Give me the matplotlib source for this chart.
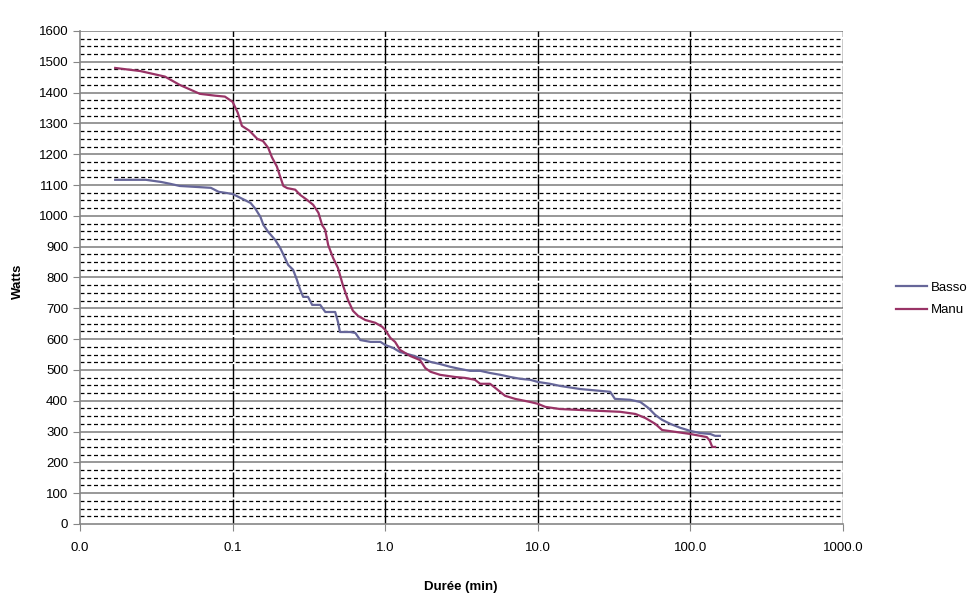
import matplotlib
matplotlib.use("Agg")
import matplotlib.pyplot as plt
from matplotlib.ticker import FixedLocator, FixedFormatter, NullLocator

plt.rcParams['font.family'] = ['Liberation Sans', 'DejaVu Sans']

# Durée (min) and Watts — Manu
manu_t = [0.017, 0.0248, 0.036, 0.045, 0.061, 0.077, 0.089, 0.1, 0.108, 0.115, 0.129, 0.145,
          0.158, 0.171, 0.181, 0.195, 0.205, 0.215, 0.228, 0.257, 0.277, 0.307, 0.337, 0.365,
          0.386, 0.404, 0.423, 0.455, 0.49, 0.527, 0.57, 0.614, 0.665, 0.74, 0.86, 0.955,
          1.0, 1.08, 1.16, 1.25, 1.35, 1.46, 1.69, 1.83, 1.98, 2.29, 2.87, 3.34, 3.87, 4.19,
          4.86, 5.25, 6.1, 7.1, 8.9, 10.0, 11.2, 14.0, 18.9, 25.6, 34.7, 43.6, 50.6, 58.8,
          65.2, 79.4, 100.0, 116.0, 128.0, 134.0, 139.0, 145.0]
manu_w = [1480, 1470, 1452, 1425, 1396, 1390, 1387, 1370, 1335, 1292, 1276, 1250,
          1243, 1221, 1190, 1160, 1127, 1097, 1090, 1085, 1068, 1052, 1036, 1010,
          970, 955, 905, 864, 831, 776, 727, 692, 675, 662, 653, 640,
          630, 604, 591, 565, 555, 545, 532, 506, 494, 484, 477, 474, 468, 455,
          455, 442, 416, 406, 396, 390, 380, 373, 370, 367, 364, 357, 344, 325,
          305, 299, 292, 286, 282, 270, 250, 250]

# Durée (min) and Watts — Basso
basso_t = [0.017, 0.027, 0.034, 0.039, 0.045, 0.057, 0.072, 0.081, 0.089, 0.1, 0.116, 0.131,
           0.141, 0.152, 0.159, 0.171, 0.19, 0.205, 0.22, 0.231, 0.249, 0.264, 0.277, 0.29,
           0.312, 0.332, 0.375, 0.405, 0.47, 0.49, 0.505, 0.59, 0.637, 0.686, 0.8, 0.93,
           1.0, 1.13, 1.25, 1.46, 1.69, 1.98, 2.29, 2.67, 3.1, 3.6, 4.2, 4.86, 5.7, 6.6,
           7.7, 8.9, 10.0, 12.0, 14.0, 18.9, 25.6, 29.8, 32.0, 40.3, 46.9, 52.9, 58.8, 65.2,
           73.7, 85.9, 100.0, 116.0, 135.0, 145.0, 156.0]
basso_w = [1117, 1117, 1110, 1104, 1097, 1094, 1091, 1078, 1075, 1071, 1055, 1042,
           1023, 997, 971, 948, 922, 896, 864, 841, 825, 792, 760, 737,
           737, 711, 711, 688, 688, 656, 623, 623, 620, 597, 591, 591,
           581, 571, 558, 549, 539, 526, 519, 510, 503, 497, 497, 490, 484, 477,
           471, 468, 461, 455, 448, 438, 432, 429, 406, 403, 396, 377, 354, 338,
           325, 312, 302, 295, 292, 286, 286]

x_ticks = [0.01, 0.1, 1, 10, 100, 1000]
x_labels = ["0.0", "0.1", "1.0", "10.0", "100.0", "1000.0"]
y_ticks = list(range(0, 1601, 100))

fig = plt.figure(figsize=(9.7, 6.04), dpi=100)
ax = fig.add_axes([0.0825, 0.1325, 0.7866, 0.8162])

ax.set_xscale('log')
ax.set_xlim(0.01, 1000)
ax.set_ylim(0, 1600)

# gridlines
for y in range(25, 1600, 25):
    if y % 100 == 0:
        ax.axhline(y, color='#868686', lw=1.2, zorder=1)
    else:
        ax.axhline(y, color='black', lw=0.9, ls=(0, (3.2, 2.2)), zorder=1)
ax.axhline(1600, color='#868686', lw=1.2, zorder=1)
for x in x_ticks[1:]:
    ax.axvline(x, color='black', lw=1.0, ls=(0, (18, 1.5)), zorder=1)

l1, = ax.plot(basso_t, basso_w, color='#666699', lw=1.6, label='Basso', zorder=3)
l2, = ax.plot(manu_t, manu_w, color='#993366', lw=1.6, label='Manu', zorder=3)

ax.xaxis.set_major_locator(FixedLocator(x_ticks))
ax.xaxis.set_major_formatter(FixedFormatter(x_labels))
ax.xaxis.set_minor_locator(NullLocator())
ax.set_yticks(y_ticks)

for s in ['top', 'right']:
    ax.spines[s].set_visible(False)
for s in ['left', 'bottom']:
    ax.spines[s].set_color('#868686')
    ax.spines[s].set_linewidth(1.2)
ax.tick_params(axis='both', colors='#868686', labelcolor='black', labelsize=9.5,
               length=5, direction='out')
ax.tick_params(axis='x', pad=8)

fig.text(0.475, 0.028, 'Durée (min)', ha='center', va='center', fontsize=9.5,
         fontweight='bold')
fig.text(0.019, 0.535, 'Watts', ha='center', va='center', fontsize=9.5,
         fontweight='bold', rotation=90)

fig.legend(handles=[l1, l2], loc='center left', bbox_to_anchor=(0.911, 0.505),
           frameon=False, fontsize=9.5, handlelength=2.4, labelspacing=0.75,
           handletextpad=0.3)

fig.savefig('out.png', dpi=100)
